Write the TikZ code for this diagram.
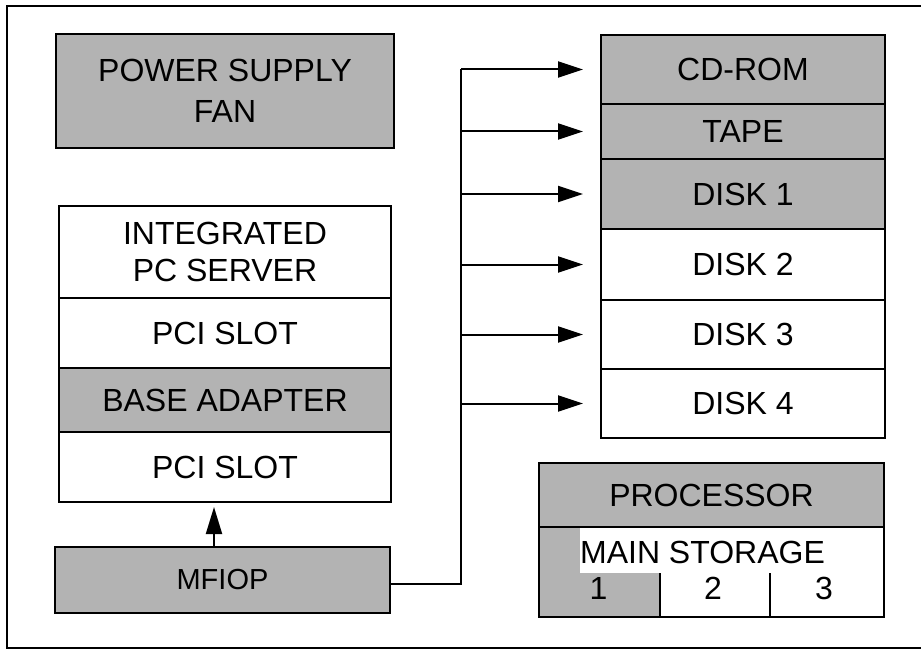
\documentclass[tikz,border=0pt]{standalone}
\usepackage{fontspec}
\setmainfont{Liberation Sans}
\usetikzlibrary{arrows.meta,calc}
\definecolor{boxgray}{RGB}{179,179,179}
\begin{document}
\begin{tikzpicture}[x=1pt,y=-1pt,
  box/.style={draw, line width=2pt, inner sep=0pt, anchor=north west,
    font=\fontsize{32}{41}\selectfont, align=center},
  gbox/.style={box, fill=boxgray},
  wbox/.style={box, fill=white},
  lbl/.style={inner sep=0pt, font=\fontsize{32}{41}\selectfont},
  conn/.style={line width=2pt},
  arr/.style={conn, -{Triangle[length=25pt,width=16pt]}}]
\useasboundingbox (0,0) rectangle (921,650);
\draw[line width=2pt] (6.5,6.5) rectangle (940,648);

% power supply
\node[gbox, minimum width=338pt, minimum height=114pt] (psu) at (55,33) {POWER SUPPLY\\FAN};

% server stack
\node[wbox, minimum width=332pt, minimum height=92pt, font=\fontsize{32}{37}\selectfont] (srv) at (58,205) {INTEGRATED\\PC SERVER};
\node[wbox, minimum width=332pt, minimum height=70pt] (pci1) at (58,297) {PCI SLOT};
\node[gbox, minimum width=332pt, minimum height=64pt] (base) at (58,367) {BASE ADAPTER};
\node[wbox, minimum width=332pt, minimum height=70pt] (pci2) at (58,431) {PCI SLOT};
\node[gbox, minimum width=335pt, minimum height=66pt, font=\fontsize{29}{34}\selectfont] (mfiop) at (54,546) {MFIOP};

% device stack
\node[gbox, minimum width=284pt, minimum height=69pt] (cd) at (600,34) {CD-ROM};
\node[gbox, minimum width=284pt, minimum height=55pt] (tape) at (600,103) {TAPE};
\node[gbox, minimum width=284pt, minimum height=70pt] (disk1) at (600,158) {DISK 1};
\node[wbox, minimum width=284pt, minimum height=71pt] (disk2) at (600,228) {DISK 2};
\node[wbox, minimum width=284pt, minimum height=69pt] (disk3) at (600,299) {DISK 3};
\node[wbox, minimum width=284pt, minimum height=69pt] (disk4) at (600,368) {DISK 4};

% processor
\node[gbox, minimum width=345pt, minimum height=64pt] (proc) at (538,462) {PROCESSOR};
\node[gbox, minimum width=121pt, minimum height=90pt] (ms1) at (538,526) {};
\node[wbox, minimum width=110pt, minimum height=90pt] (ms2) at (659,526) {};
\node[wbox, minimum width=114pt, minimum height=90pt] (ms3) at (769,526) {};
\node[lbl, fill=white, anchor=base, text height=35pt, text depth=10pt] (mslbl) at (702.5,563) {MAIN STORAGE};
\node[lbl] (n1) at (598.5,588.5) {1};
\node[lbl] (n2) at (713,588.5) {2};
\node[lbl] (n3) at (824,588.5) {3};

% connectors
\coordinate (trunk) at (461,0);
\draw[conn] ([yshift=-4pt]mfiop.east) -| (trunk |- cd.west);
\foreach \d in {cd,tape,disk1,disk2,disk3,disk4}
  \draw[arr, shorten >=17pt] (trunk |- \d.west) -- (\d.west);
\draw[conn, -{Triangle[length=27pt,width=16pt]}, shorten >=4pt]
  ([xshift=-8.5pt]mfiop.north) -- ([xshift=-8.5pt]mfiop.north |- pci2.south);
\end{tikzpicture}
\end{document}
